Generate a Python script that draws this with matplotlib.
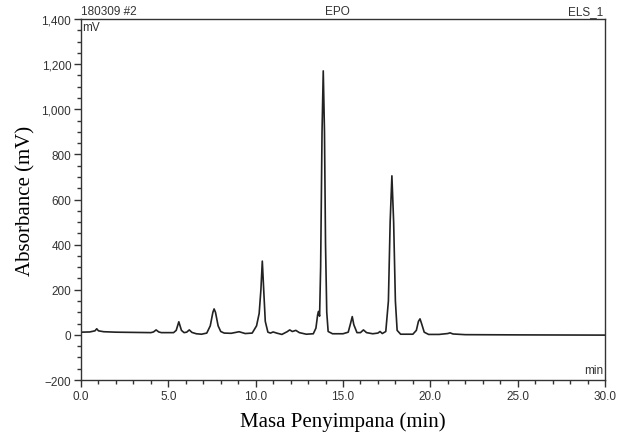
import matplotlib
matplotlib.use("Agg")
import matplotlib.pyplot as plt
from matplotlib.ticker import MultipleLocator, StrMethodFormatter

# chromatogram trace (retention time in min, signal in mV)
time_min = [0.0, 0.5, 0.8, 0.9, 1.0, 1.3, 2.0, 3.0, 4.0, 4.15, 4.3, 4.45, 4.6,
            5.3, 5.45, 5.6, 5.75, 5.9, 6.05, 6.2, 6.35, 6.6, 6.9, 7.2, 7.4,
            7.55, 7.62, 7.7, 7.85, 8.0, 8.2, 8.6, 9.05, 9.4, 9.8, 10.05, 10.2,
            10.3, 10.38, 10.46, 10.55, 10.7, 10.85, 11.0, 11.2, 11.5, 11.8,
            11.95, 12.1, 12.3, 12.5, 12.9, 13.3, 13.45, 13.55, 13.6, 13.66,
            13.72, 13.8, 13.87, 13.94, 14.0, 14.07, 14.15, 14.4, 15.0, 15.3,
            15.43, 15.53, 15.62, 15.8, 16.0, 16.17, 16.35, 16.7, 17.0, 17.12,
            17.25, 17.45, 17.6, 17.7, 17.8, 17.9, 18.0, 18.1, 18.3, 19.0, 19.2,
            19.32, 19.41, 19.5, 19.65, 19.9, 20.5, 21.0, 21.13, 21.3, 22.0,
            25.0, 30.0]
signal_mv = [12, 13, 18, 27, 18, 14, 12, 11, 10, 13, 22, 13, 10,
             10, 20, 58, 20, 10, 12, 22, 11, 5, 3, 8, 40,
             100, 115, 100, 40, 15, 8, 7, 14, 6, 8, 40, 95,
             200, 327, 200, 60, 12, 8, 13, 8, 2, 14,
             22, 15, 20, 10, 3, 5, 30, 90, 104, 83,
             300, 900, 1170, 900, 400, 100, 15, 5, 5, 12,
             50, 81, 45, 10, 10, 22, 10, 5, 8, 15,
             6, 15, 150, 500, 705, 500, 150, 20, 3, 3, 20,
             60, 71, 50, 12, 2, 2, 6, 9, 4, 1,
             0, -1]

sample_id = "180309 #2"
sample_name = "EPO"
channel = "ELS_1"

fig = plt.figure(figsize=(6.29, 4.39), dpi=100)
ax = fig.add_axes([0.1288, 0.1321, 0.8330, 0.8223])

ax.plot(time_min, signal_mv, color="#222222", lw=1.2)

ax.set_xlim(0, 30)
ax.set_ylim(-200, 1400)
ax.xaxis.set_major_locator(MultipleLocator(5))
ax.xaxis.set_minor_locator(MultipleLocator(1))
ax.yaxis.set_major_locator(MultipleLocator(200))
ax.yaxis.set_minor_locator(MultipleLocator(50))
ax.xaxis.set_major_formatter(StrMethodFormatter("{x:.1f}"))
ax.yaxis.set_major_formatter(StrMethodFormatter("{x:,.0f}"))

tick_font = "Liberation Sans"
ax.tick_params(which="major", length=5, width=1, color="#333333",
               labelsize=8.5, labelcolor="#333333", pad=2)
ax.tick_params(which="minor", length=3, width=1, color="#333333")
for lab in ax.get_xticklabels() + ax.get_yticklabels():
    lab.set_fontfamily(tick_font)

for s in ax.spines.values():
    s.set_color("#333333")
    s.set_linewidth(1)

ax.text(0.0, 1.005, sample_id, transform=ax.transAxes, ha="left", va="bottom",
        fontsize=8.5, family=tick_font, color="#333333")
ax.text(0.49, 1.005, sample_name, transform=ax.transAxes, ha="center", va="bottom",
        fontsize=8.5, family=tick_font, color="#333333")
ax.text(0.997, 1.005, channel, transform=ax.transAxes, ha="right", va="bottom",
        fontsize=8.5, family=tick_font, color="#333333")
ax.text(0.003, 0.995, "mV", transform=ax.transAxes, ha="left", va="top",
        fontsize=8.5, family=tick_font, color="#333333")
ax.text(0.997, 0.01, "min", transform=ax.transAxes, ha="right", va="bottom",
        fontsize=8.5, family=tick_font, color="#333333")

ax.set_xlabel("Masa Penyimpana (min)", fontsize=15, family="Liberation Serif")
ax.set_ylabel("Absorbance (mV)", fontsize=15, family="Liberation Serif")
ax.xaxis.set_label_coords(0.5, -0.086)
ax.yaxis.set_label_coords(-0.086, 0.5)

fig.savefig("out.png", dpi=100)
